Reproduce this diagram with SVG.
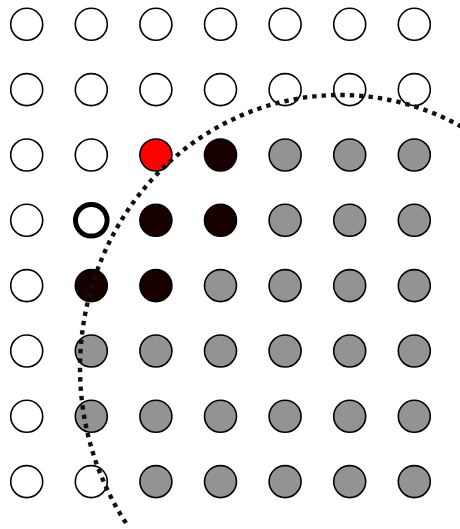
<svg xmlns="http://www.w3.org/2000/svg" width="460" height="529" viewBox="0 0 460 529">
<style>
.n{stroke:#000;stroke-width:1.6}
.w{fill:#fff}
.g{fill:#939393}
.d{fill:#180000}
.r{fill:#ff0000}
.b{fill:#fff;stroke-width:5}
.arc{fill:none;stroke:#111;stroke-width:4.4;stroke-dasharray:4.4 5}
</style>
<rect width="460" height="529" fill="#fff"/>
<g id="nodes">
<g id="row0">
<circle id="n0_0" class="n w" cx="26.7" cy="24.3" r="16"/>
<circle id="n0_1" class="n w" cx="91.3" cy="24.3" r="16"/>
<circle id="n0_2" class="n w" cx="155.9" cy="24.3" r="16"/>
<circle id="n0_3" class="n w" cx="220.5" cy="24.3" r="16"/>
<circle id="n0_4" class="n w" cx="285.1" cy="24.3" r="16"/>
<circle id="n0_5" class="n w" cx="349.7" cy="24.3" r="16"/>
<circle id="n0_6" class="n w" cx="414.3" cy="24.3" r="16"/>
</g>
<g id="row1">
<circle id="n1_0" class="n w" cx="26.7" cy="89.6" r="16"/>
<circle id="n1_1" class="n w" cx="91.3" cy="89.6" r="16"/>
<circle id="n1_2" class="n w" cx="155.9" cy="89.6" r="16"/>
<circle id="n1_3" class="n w" cx="220.5" cy="89.6" r="16"/>
<circle id="n1_4" class="n w" cx="285.1" cy="89.6" r="16"/>
<circle id="n1_5" class="n w" cx="349.7" cy="89.6" r="16"/>
<circle id="n1_6" class="n w" cx="414.3" cy="89.6" r="16"/>
</g>
<g id="row2">
<circle id="n2_0" class="n w" cx="26.7" cy="155" r="16"/>
<circle id="n2_1" class="n w" cx="91.3" cy="155" r="16"/>
<circle id="n2_2" class="n r" cx="155.9" cy="155" r="16"/>
<circle id="n2_3" class="n d" cx="220.5" cy="155" r="16"/>
<circle id="n2_4" class="n g" cx="285.1" cy="155" r="16"/>
<circle id="n2_5" class="n g" cx="349.7" cy="155" r="16"/>
<circle id="n2_6" class="n g" cx="414.3" cy="155" r="16"/>
</g>
<g id="row3">
<circle id="n3_0" class="n w" cx="26.7" cy="220.3" r="16"/>
<circle id="n3_1" class="n b" cx="91.3" cy="220.3" r="15.8"/>
<circle id="n3_2" class="n d" cx="155.9" cy="220.3" r="16"/>
<circle id="n3_3" class="n d" cx="220.5" cy="220.3" r="16"/>
<circle id="n3_4" class="n g" cx="285.1" cy="220.3" r="16"/>
<circle id="n3_5" class="n g" cx="349.7" cy="220.3" r="16"/>
<circle id="n3_6" class="n g" cx="414.3" cy="220.3" r="16"/>
</g>
<g id="row4">
<circle id="n4_0" class="n w" cx="26.7" cy="285.6" r="16"/>
<circle id="n4_1" class="n d" cx="91.3" cy="285.6" r="16"/>
<circle id="n4_2" class="n d" cx="155.9" cy="285.6" r="16"/>
<circle id="n4_3" class="n g" cx="220.5" cy="285.6" r="16"/>
<circle id="n4_4" class="n g" cx="285.1" cy="285.6" r="16"/>
<circle id="n4_5" class="n g" cx="349.7" cy="285.6" r="16"/>
<circle id="n4_6" class="n g" cx="414.3" cy="285.6" r="16"/>
</g>
<g id="row5">
<circle id="n5_0" class="n w" cx="26.7" cy="351" r="16"/>
<circle id="n5_1" class="n g" cx="91.3" cy="351" r="16"/>
<circle id="n5_2" class="n g" cx="155.9" cy="351" r="16"/>
<circle id="n5_3" class="n g" cx="220.5" cy="351" r="16"/>
<circle id="n5_4" class="n g" cx="285.1" cy="351" r="16"/>
<circle id="n5_5" class="n g" cx="349.7" cy="351" r="16"/>
<circle id="n5_6" class="n g" cx="414.3" cy="351" r="16"/>
</g>
<g id="row6">
<circle id="n6_0" class="n w" cx="26.7" cy="416.3" r="16"/>
<circle id="n6_1" class="n g" cx="91.3" cy="416.3" r="16"/>
<circle id="n6_2" class="n g" cx="155.9" cy="416.3" r="16"/>
<circle id="n6_3" class="n g" cx="220.5" cy="416.3" r="16"/>
<circle id="n6_4" class="n g" cx="285.1" cy="416.3" r="16"/>
<circle id="n6_5" class="n g" cx="349.7" cy="416.3" r="16"/>
<circle id="n6_6" class="n g" cx="414.3" cy="416.3" r="16"/>
</g>
<g id="row7">
<circle id="n7_0" class="n w" cx="26.7" cy="481.6" r="16"/>
<circle id="n7_1" class="n w" cx="91.3" cy="481.6" r="16"/>
<circle id="n7_2" class="n g" cx="155.9" cy="481.6" r="16"/>
<circle id="n7_3" class="n g" cx="220.5" cy="481.6" r="16"/>
<circle id="n7_4" class="n g" cx="285.1" cy="481.6" r="16"/>
<circle id="n7_5" class="n g" cx="349.7" cy="481.6" r="16"/>
<circle id="n7_6" class="n g" cx="414.3" cy="481.6" r="16"/>
</g>
</g>
<g id="connectors">
<path id="boundary" class="arc" d="M126,523 A260,273 0 0 1 465,128.6"/>
</g>
</svg>
